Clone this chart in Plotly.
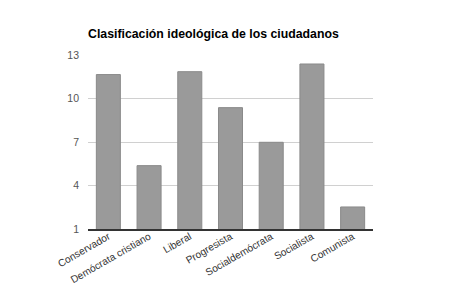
import plotly.graph_objects as go

categories = ["Conservador", "Demócrata cristiano", "Liberal", "Progresista",
              "Socialdemócrata", "Socialista", "Comunista"]
values = [11.65, 5.37, 11.85, 9.37, 6.98, 12.38, 2.52]
y_ticks = [1, 4, 7, 10, 13]
title_text = "Clasificación ideológica de los ciudadanos"

fig = go.Figure(go.Bar(
    x=categories, y=values,
    marker=dict(color="#9a9a9a", line=dict(color="#8a8a8a", width=1)),
))

fig.update_layout(
    width=460, height=284,
    margin=dict(l=88, r=87, t=55, b=55, autoexpand=False),
    paper_bgcolor="white", plot_bgcolor="white",
    bargap=0.41,
    showlegend=False,
    font=dict(family="Liberation Sans, Arial, sans-serif", size=11, color="#555555"),
    title=dict(text="<b>" + title_text + "</b>", x=88/460, xanchor="left",
               y=1 - 34/284, yanchor="middle",
               font=dict(family="Liberation Sans, Arial, sans-serif", size=12.3, color="#000000")),
)
fig.update_yaxes(range=[1, 13], tickvals=y_ticks, ticktext=[str(v) for v in y_ticks],
                 showgrid=True, gridcolor="#d0d0d0", gridwidth=1, zeroline=False,
                 showline=False, ticks="", ticklabelstandoff=8, automargin=False,
                 tickfont=dict(size=10.5, color="#555555"))
fig.update_xaxes(tickangle=-30, showline=True, linecolor="#333333", linewidth=1.5,
                 ticks="", automargin=False, ticklabelstandoff=-4,
                 tickfont=dict(size=10.2, color="#333333"))

fig.write_html("out.html")
